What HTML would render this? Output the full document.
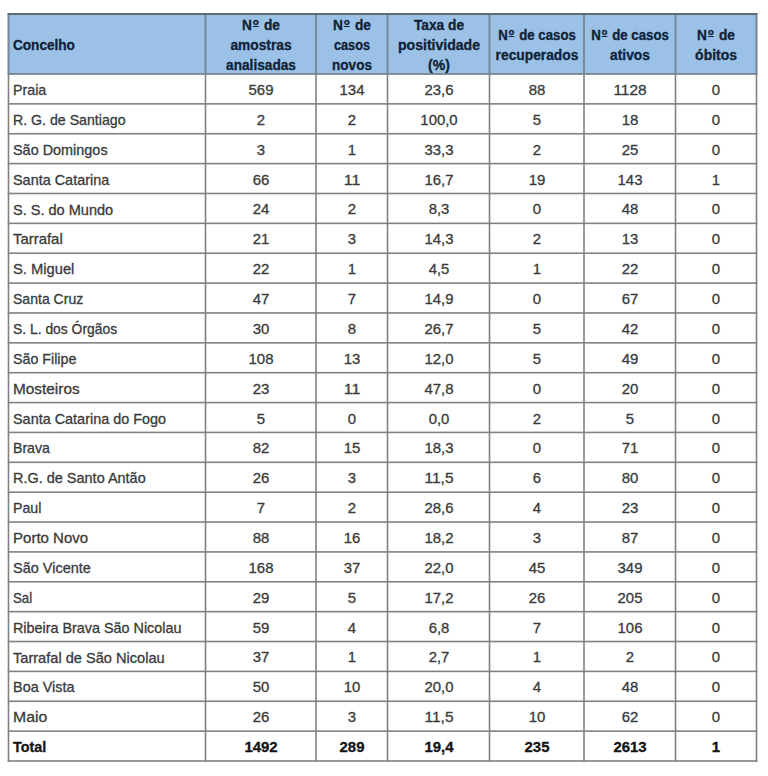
<!DOCTYPE html>
<html><head><meta charset="utf-8"><style>
html,body{margin:0;padding:0;background:#fff;}
body{width:768px;height:776px;position:relative;overflow:hidden;font-family:"Liberation Sans", sans-serif;}
.t{position:absolute;white-space:nowrap;line-height:20px;height:20px;}
.b{color:#3a3a3a;-webkit-text-stroke:0.3px #3a3a3a;}
.h{color:#0f2238;font-weight:bold;-webkit-text-stroke:0.3px #0f2238;}
.ord{display:inline-block;font-size:9.5px;line-height:6px;height:6px;padding-bottom:1px;border-bottom:1.8px solid currentColor;vertical-align:top;margin-top:4px;margin-left:1px;margin-right:1.5px;-webkit-text-stroke:0.45px currentColor;}
.tot{font-weight:bold;color:#141414;-webkit-text-stroke-color:#141414;}
svg{position:absolute;left:0;top:0;}
</style></head><body>

<svg width="768" height="776" viewBox="0 0 768 776">
<rect x="8.5" y="14.0" width="748.0" height="60.0" fill="#9bc1e6"/>
<rect x="7.70" y="13.20" width="749.60" height="1.60" fill="#828282"/>
<rect x="7.70" y="73.20" width="749.60" height="1.60" fill="#717a84"/>
<rect x="7.70" y="103.07" width="749.60" height="1.60" fill="#828282"/>
<rect x="7.70" y="132.94" width="749.60" height="1.60" fill="#828282"/>
<rect x="7.70" y="162.81" width="749.60" height="1.60" fill="#828282"/>
<rect x="7.70" y="192.68" width="749.60" height="1.60" fill="#828282"/>
<rect x="7.70" y="222.55" width="749.60" height="1.60" fill="#828282"/>
<rect x="7.70" y="252.42" width="749.60" height="1.60" fill="#828282"/>
<rect x="7.70" y="282.29" width="749.60" height="1.60" fill="#828282"/>
<rect x="7.70" y="312.16" width="749.60" height="1.60" fill="#828282"/>
<rect x="7.70" y="342.03" width="749.60" height="1.60" fill="#828282"/>
<rect x="7.70" y="371.90" width="749.60" height="1.60" fill="#828282"/>
<rect x="7.70" y="401.77" width="749.60" height="1.60" fill="#828282"/>
<rect x="7.70" y="431.63" width="749.60" height="1.60" fill="#828282"/>
<rect x="7.70" y="461.50" width="749.60" height="1.60" fill="#828282"/>
<rect x="7.70" y="491.37" width="749.60" height="1.60" fill="#828282"/>
<rect x="7.70" y="521.24" width="749.60" height="1.60" fill="#828282"/>
<rect x="7.70" y="551.11" width="749.60" height="1.60" fill="#828282"/>
<rect x="7.70" y="580.98" width="749.60" height="1.60" fill="#828282"/>
<rect x="7.70" y="610.85" width="749.60" height="1.60" fill="#828282"/>
<rect x="7.70" y="640.72" width="749.60" height="1.60" fill="#828282"/>
<rect x="7.70" y="670.59" width="749.60" height="1.60" fill="#828282"/>
<rect x="7.70" y="700.46" width="749.60" height="1.60" fill="#828282"/>
<rect x="7.70" y="730.33" width="749.60" height="1.60" fill="#828282"/>
<rect x="7.70" y="760.20" width="749.60" height="1.60" fill="#828282"/>
<rect x="7.70" y="13.20" width="1.60" height="748.60" fill="#828282"/>
<rect x="204.70" y="13.20" width="1.60" height="748.60" fill="#828282"/>
<rect x="315.20" y="13.20" width="1.60" height="748.60" fill="#828282"/>
<rect x="386.70" y="13.20" width="1.60" height="748.60" fill="#828282"/>
<rect x="488.70" y="13.20" width="1.60" height="748.60" fill="#828282"/>
<rect x="583.20" y="13.20" width="1.60" height="748.60" fill="#828282"/>
<rect x="674.70" y="13.20" width="1.60" height="748.60" fill="#828282"/>
<rect x="755.70" y="13.20" width="1.60" height="748.60" fill="#828282"/>
<rect x="7.70" y="14.00" width="1.60" height="60.00" fill="#7489a0"/>
<rect x="204.70" y="14.00" width="1.60" height="60.00" fill="#7489a0"/>
<rect x="315.20" y="14.00" width="1.60" height="60.00" fill="#7489a0"/>
<rect x="386.70" y="14.00" width="1.60" height="60.00" fill="#7489a0"/>
<rect x="488.70" y="14.00" width="1.60" height="60.00" fill="#7489a0"/>
<rect x="583.20" y="14.00" width="1.60" height="60.00" fill="#7489a0"/>
<rect x="674.70" y="14.00" width="1.60" height="60.00" fill="#7489a0"/>
<rect x="755.70" y="14.00" width="1.60" height="60.00" fill="#7489a0"/>
<rect x="7.70" y="13.20" width="749.60" height="1.60" fill="#58626e"/>
</svg>
<div class="t h" style="left:13.30px;top:35.38px;font-size:13.9px;transform:scaleX(0.9780);transform-origin:0 0;">Concelho</div>
<div class="t h" style="left:260.75px;top:15.48px;font-size:13.9px;transform:translateX(-50%) scaleX(0.9882);">N<span class="ord">o</span> de</div>
<div class="t h" style="left:260.75px;top:35.28px;font-size:13.9px;transform:translateX(-50%) scaleX(0.9914);">amostras</div>
<div class="t h" style="left:260.75px;top:55.18px;font-size:13.9px;transform:translateX(-50%) scaleX(0.9826);">analisadas</div>
<div class="t h" style="left:351.75px;top:15.48px;font-size:13.9px;transform:translateX(-50%) scaleX(0.9882);">N<span class="ord">o</span> de</div>
<div class="t h" style="left:351.75px;top:35.28px;font-size:13.9px;transform:translateX(-50%) scaleX(0.9159);">casos</div>
<div class="t h" style="left:351.75px;top:55.18px;font-size:13.9px;transform:translateX(-50%) scaleX(0.9725);">novos</div>
<div class="t h" style="left:438.50px;top:15.48px;font-size:13.9px;transform:translateX(-50%) scaleX(0.9864);">Taxa de</div>
<div class="t h" style="left:438.50px;top:35.28px;font-size:13.9px;transform:translateX(-50%) scaleX(1.0116);">positividade</div>
<div class="t h" style="left:438.50px;top:55.18px;font-size:13.9px;transform:translateX(-50%) scaleX(1.0072);">(%)</div>
<div class="t h" style="left:536.75px;top:25.38px;font-size:13.9px;transform:translateX(-50%) scaleX(0.9512);">N<span class="ord">o</span> de casos</div>
<div class="t h" style="left:536.75px;top:45.08px;font-size:13.9px;transform:translateX(-50%) scaleX(0.9927);">recuperados</div>
<div class="t h" style="left:629.75px;top:25.38px;font-size:13.9px;transform:translateX(-50%) scaleX(0.9512);">N<span class="ord">o</span> de casos</div>
<div class="t h" style="left:629.75px;top:45.08px;font-size:13.9px;transform:translateX(-50%) scaleX(0.9903);">ativos</div>
<div class="t h" style="left:716.00px;top:25.38px;font-size:13.9px;transform:translateX(-50%) scaleX(0.9882);">N<span class="ord">o</span> de</div>
<div class="t h" style="left:716.00px;top:45.08px;font-size:13.9px;transform:translateX(-50%) scaleX(1.0019);">óbitos</div>
<div class="t b" style="left:13.30px;top:80.05px;font-size:14.3px;transform:scaleX(0.9977);transform-origin:0 0;">Praia</div>
<div class="t b n" style="left:260.75px;top:79.94px;font-size:14.6px;transform:translateX(-50%) scaleX(1.0237);">569</div>
<div class="t b n" style="left:351.75px;top:79.94px;font-size:14.6px;transform:translateX(-50%) scaleX(1.0237);">134</div>
<div class="t b n" style="left:438.50px;top:79.94px;font-size:14.6px;transform:translateX(-50%) scaleX(1.0215);">23,6</div>
<div class="t b n" style="left:536.75px;top:79.94px;font-size:14.6px;transform:translateX(-50%) scaleX(1.0241);">88</div>
<div class="t b n" style="left:629.75px;top:79.94px;font-size:14.6px;transform:translateX(-50%) scaleX(1.0587);">1128</div>
<div class="t b n" style="left:716.00px;top:79.94px;font-size:14.6px;transform:translateX(-50%) scaleX(1.0231);">0</div>
<div class="t b" style="left:13.30px;top:109.91px;font-size:14.3px;transform:scaleX(0.9904);transform-origin:0 0;">R. G. de Santiago</div>
<div class="t b n" style="left:260.75px;top:109.81px;font-size:14.6px;transform:translateX(-50%) scaleX(1.0231);">2</div>
<div class="t b n" style="left:351.75px;top:109.81px;font-size:14.6px;transform:translateX(-50%) scaleX(1.0231);">2</div>
<div class="t b n" style="left:438.50px;top:109.81px;font-size:14.6px;transform:translateX(-50%) scaleX(1.0218);">100,0</div>
<div class="t b n" style="left:536.75px;top:109.81px;font-size:14.6px;transform:translateX(-50%) scaleX(1.0231);">5</div>
<div class="t b n" style="left:629.75px;top:109.81px;font-size:14.6px;transform:translateX(-50%) scaleX(1.0241);">18</div>
<div class="t b n" style="left:716.00px;top:109.81px;font-size:14.6px;transform:translateX(-50%) scaleX(1.0231);">0</div>
<div class="t b" style="left:13.30px;top:139.78px;font-size:14.3px;transform:scaleX(1.0087);transform-origin:0 0;">São Domingos</div>
<div class="t b n" style="left:260.75px;top:139.68px;font-size:14.6px;transform:translateX(-50%) scaleX(1.0231);">3</div>
<div class="t b n" style="left:351.75px;top:139.68px;font-size:14.6px;transform:translateX(-50%) scaleX(1.0231);">1</div>
<div class="t b n" style="left:438.50px;top:139.68px;font-size:14.6px;transform:translateX(-50%) scaleX(1.0215);">33,3</div>
<div class="t b n" style="left:536.75px;top:139.68px;font-size:14.6px;transform:translateX(-50%) scaleX(1.0231);">2</div>
<div class="t b n" style="left:629.75px;top:139.68px;font-size:14.6px;transform:translateX(-50%) scaleX(1.0241);">25</div>
<div class="t b n" style="left:716.00px;top:139.68px;font-size:14.6px;transform:translateX(-50%) scaleX(1.0231);">0</div>
<div class="t b" style="left:13.30px;top:169.65px;font-size:14.3px;transform:scaleX(1.0088);transform-origin:0 0;">Santa Catarina</div>
<div class="t b n" style="left:260.75px;top:169.55px;font-size:14.6px;transform:translateX(-50%) scaleX(1.0241);">66</div>
<div class="t b n" style="left:351.75px;top:169.55px;font-size:14.6px;transform:translateX(-50%) scaleX(1.0969);">11</div>
<div class="t b n" style="left:438.50px;top:169.55px;font-size:14.6px;transform:translateX(-50%) scaleX(1.0215);">16,7</div>
<div class="t b n" style="left:536.75px;top:169.55px;font-size:14.6px;transform:translateX(-50%) scaleX(1.0241);">19</div>
<div class="t b n" style="left:629.75px;top:169.55px;font-size:14.6px;transform:translateX(-50%) scaleX(1.0237);">143</div>
<div class="t b n" style="left:716.00px;top:169.55px;font-size:14.6px;transform:translateX(-50%) scaleX(1.0231);">1</div>
<div class="t b" style="left:13.30px;top:199.52px;font-size:14.3px;transform:scaleX(1.0166);transform-origin:0 0;">S. S. do Mundo</div>
<div class="t b n" style="left:260.75px;top:199.42px;font-size:14.6px;transform:translateX(-50%) scaleX(1.0241);">24</div>
<div class="t b n" style="left:351.75px;top:199.42px;font-size:14.6px;transform:translateX(-50%) scaleX(1.0231);">2</div>
<div class="t b n" style="left:438.50px;top:199.42px;font-size:14.6px;transform:translateX(-50%) scaleX(1.0208);">8,3</div>
<div class="t b n" style="left:536.75px;top:199.42px;font-size:14.6px;transform:translateX(-50%) scaleX(1.0231);">0</div>
<div class="t b n" style="left:629.75px;top:199.42px;font-size:14.6px;transform:translateX(-50%) scaleX(1.0241);">48</div>
<div class="t b n" style="left:716.00px;top:199.42px;font-size:14.6px;transform:translateX(-50%) scaleX(1.0231);">0</div>
<div class="t b" style="left:13.30px;top:229.39px;font-size:14.3px;transform:scaleX(1.0423);transform-origin:0 0;">Tarrafal</div>
<div class="t b n" style="left:260.75px;top:229.29px;font-size:14.6px;transform:translateX(-50%) scaleX(1.0241);">21</div>
<div class="t b n" style="left:351.75px;top:229.29px;font-size:14.6px;transform:translateX(-50%) scaleX(1.0231);">3</div>
<div class="t b n" style="left:438.50px;top:229.29px;font-size:14.6px;transform:translateX(-50%) scaleX(1.0215);">14,3</div>
<div class="t b n" style="left:536.75px;top:229.29px;font-size:14.6px;transform:translateX(-50%) scaleX(1.0231);">2</div>
<div class="t b n" style="left:629.75px;top:229.29px;font-size:14.6px;transform:translateX(-50%) scaleX(1.0241);">13</div>
<div class="t b n" style="left:716.00px;top:229.29px;font-size:14.6px;transform:translateX(-50%) scaleX(1.0231);">0</div>
<div class="t b" style="left:13.30px;top:259.26px;font-size:14.3px;transform:scaleX(1.0301);transform-origin:0 0;">S. Miguel</div>
<div class="t b n" style="left:260.75px;top:259.16px;font-size:14.6px;transform:translateX(-50%) scaleX(1.0241);">22</div>
<div class="t b n" style="left:351.75px;top:259.16px;font-size:14.6px;transform:translateX(-50%) scaleX(1.0231);">1</div>
<div class="t b n" style="left:438.50px;top:259.16px;font-size:14.6px;transform:translateX(-50%) scaleX(1.0208);">4,5</div>
<div class="t b n" style="left:536.75px;top:259.16px;font-size:14.6px;transform:translateX(-50%) scaleX(1.0231);">1</div>
<div class="t b n" style="left:629.75px;top:259.16px;font-size:14.6px;transform:translateX(-50%) scaleX(1.0241);">22</div>
<div class="t b n" style="left:716.00px;top:259.16px;font-size:14.6px;transform:translateX(-50%) scaleX(1.0231);">0</div>
<div class="t b" style="left:13.30px;top:289.13px;font-size:14.3px;transform:scaleX(0.9819);transform-origin:0 0;">Santa Cruz</div>
<div class="t b n" style="left:260.75px;top:289.03px;font-size:14.6px;transform:translateX(-50%) scaleX(1.0241);">47</div>
<div class="t b n" style="left:351.75px;top:289.03px;font-size:14.6px;transform:translateX(-50%) scaleX(1.0231);">7</div>
<div class="t b n" style="left:438.50px;top:289.03px;font-size:14.6px;transform:translateX(-50%) scaleX(1.0215);">14,9</div>
<div class="t b n" style="left:536.75px;top:289.03px;font-size:14.6px;transform:translateX(-50%) scaleX(1.0231);">0</div>
<div class="t b n" style="left:629.75px;top:289.03px;font-size:14.6px;transform:translateX(-50%) scaleX(1.0241);">67</div>
<div class="t b n" style="left:716.00px;top:289.03px;font-size:14.6px;transform:translateX(-50%) scaleX(1.0231);">0</div>
<div class="t b" style="left:13.30px;top:319.00px;font-size:14.3px;transform:scaleX(0.9706);transform-origin:0 0;">S. L. dos Órgãos</div>
<div class="t b n" style="left:260.75px;top:318.90px;font-size:14.6px;transform:translateX(-50%) scaleX(1.0241);">30</div>
<div class="t b n" style="left:351.75px;top:318.90px;font-size:14.6px;transform:translateX(-50%) scaleX(1.0231);">8</div>
<div class="t b n" style="left:438.50px;top:318.90px;font-size:14.6px;transform:translateX(-50%) scaleX(1.0215);">26,7</div>
<div class="t b n" style="left:536.75px;top:318.90px;font-size:14.6px;transform:translateX(-50%) scaleX(1.0231);">5</div>
<div class="t b n" style="left:629.75px;top:318.90px;font-size:14.6px;transform:translateX(-50%) scaleX(1.0241);">42</div>
<div class="t b n" style="left:716.00px;top:318.90px;font-size:14.6px;transform:translateX(-50%) scaleX(1.0231);">0</div>
<div class="t b" style="left:13.30px;top:348.87px;font-size:14.3px;transform:scaleX(0.9961);transform-origin:0 0;">São Filipe</div>
<div class="t b n" style="left:260.75px;top:348.77px;font-size:14.6px;transform:translateX(-50%) scaleX(1.0237);">108</div>
<div class="t b n" style="left:351.75px;top:348.77px;font-size:14.6px;transform:translateX(-50%) scaleX(1.0241);">13</div>
<div class="t b n" style="left:438.50px;top:348.77px;font-size:14.6px;transform:translateX(-50%) scaleX(1.0215);">12,0</div>
<div class="t b n" style="left:536.75px;top:348.77px;font-size:14.6px;transform:translateX(-50%) scaleX(1.0231);">5</div>
<div class="t b n" style="left:629.75px;top:348.77px;font-size:14.6px;transform:translateX(-50%) scaleX(1.0241);">49</div>
<div class="t b n" style="left:716.00px;top:348.77px;font-size:14.6px;transform:translateX(-50%) scaleX(1.0231);">0</div>
<div class="t b" style="left:13.30px;top:378.74px;font-size:14.3px;transform:scaleX(1.0749);transform-origin:0 0;">Mosteiros</div>
<div class="t b n" style="left:260.75px;top:378.64px;font-size:14.6px;transform:translateX(-50%) scaleX(1.0241);">23</div>
<div class="t b n" style="left:351.75px;top:378.64px;font-size:14.6px;transform:translateX(-50%) scaleX(1.0969);">11</div>
<div class="t b n" style="left:438.50px;top:378.64px;font-size:14.6px;transform:translateX(-50%) scaleX(1.0215);">47,8</div>
<div class="t b n" style="left:536.75px;top:378.64px;font-size:14.6px;transform:translateX(-50%) scaleX(1.0231);">0</div>
<div class="t b n" style="left:629.75px;top:378.64px;font-size:14.6px;transform:translateX(-50%) scaleX(1.0241);">20</div>
<div class="t b n" style="left:716.00px;top:378.64px;font-size:14.6px;transform:translateX(-50%) scaleX(1.0231);">0</div>
<div class="t b" style="left:13.30px;top:408.61px;font-size:14.3px;transform:scaleX(1.0083);transform-origin:0 0;">Santa Catarina do Fogo</div>
<div class="t b n" style="left:260.75px;top:408.51px;font-size:14.6px;transform:translateX(-50%) scaleX(1.0231);">5</div>
<div class="t b n" style="left:351.75px;top:408.51px;font-size:14.6px;transform:translateX(-50%) scaleX(1.0231);">0</div>
<div class="t b n" style="left:438.50px;top:408.51px;font-size:14.6px;transform:translateX(-50%) scaleX(1.0208);">0,0</div>
<div class="t b n" style="left:536.75px;top:408.51px;font-size:14.6px;transform:translateX(-50%) scaleX(1.0231);">2</div>
<div class="t b n" style="left:629.75px;top:408.51px;font-size:14.6px;transform:translateX(-50%) scaleX(1.0231);">5</div>
<div class="t b n" style="left:716.00px;top:408.51px;font-size:14.6px;transform:translateX(-50%) scaleX(1.0231);">0</div>
<div class="t b" style="left:13.30px;top:438.48px;font-size:14.3px;transform:scaleX(0.9875);transform-origin:0 0;">Brava</div>
<div class="t b n" style="left:260.75px;top:438.38px;font-size:14.6px;transform:translateX(-50%) scaleX(1.0241);">82</div>
<div class="t b n" style="left:351.75px;top:438.38px;font-size:14.6px;transform:translateX(-50%) scaleX(1.0241);">15</div>
<div class="t b n" style="left:438.50px;top:438.38px;font-size:14.6px;transform:translateX(-50%) scaleX(1.0215);">18,3</div>
<div class="t b n" style="left:536.75px;top:438.38px;font-size:14.6px;transform:translateX(-50%) scaleX(1.0231);">0</div>
<div class="t b n" style="left:629.75px;top:438.38px;font-size:14.6px;transform:translateX(-50%) scaleX(1.0241);">71</div>
<div class="t b n" style="left:716.00px;top:438.38px;font-size:14.6px;transform:translateX(-50%) scaleX(1.0231);">0</div>
<div class="t b" style="left:13.30px;top:468.35px;font-size:14.3px;transform:scaleX(1.0119);transform-origin:0 0;">R.G. de Santo Antão</div>
<div class="t b n" style="left:260.75px;top:468.25px;font-size:14.6px;transform:translateX(-50%) scaleX(1.0241);">26</div>
<div class="t b n" style="left:351.75px;top:468.25px;font-size:14.6px;transform:translateX(-50%) scaleX(1.0231);">3</div>
<div class="t b n" style="left:438.50px;top:468.25px;font-size:14.6px;transform:translateX(-50%) scaleX(1.0617);">11,5</div>
<div class="t b n" style="left:536.75px;top:468.25px;font-size:14.6px;transform:translateX(-50%) scaleX(1.0231);">6</div>
<div class="t b n" style="left:629.75px;top:468.25px;font-size:14.6px;transform:translateX(-50%) scaleX(1.0241);">80</div>
<div class="t b n" style="left:716.00px;top:468.25px;font-size:14.6px;transform:translateX(-50%) scaleX(1.0231);">0</div>
<div class="t b" style="left:13.30px;top:498.22px;font-size:14.3px;transform:scaleX(0.9902);transform-origin:0 0;">Paul</div>
<div class="t b n" style="left:260.75px;top:498.12px;font-size:14.6px;transform:translateX(-50%) scaleX(1.0231);">7</div>
<div class="t b n" style="left:351.75px;top:498.12px;font-size:14.6px;transform:translateX(-50%) scaleX(1.0231);">2</div>
<div class="t b n" style="left:438.50px;top:498.12px;font-size:14.6px;transform:translateX(-50%) scaleX(1.0215);">28,6</div>
<div class="t b n" style="left:536.75px;top:498.12px;font-size:14.6px;transform:translateX(-50%) scaleX(1.0231);">4</div>
<div class="t b n" style="left:629.75px;top:498.12px;font-size:14.6px;transform:translateX(-50%) scaleX(1.0241);">23</div>
<div class="t b n" style="left:716.00px;top:498.12px;font-size:14.6px;transform:translateX(-50%) scaleX(1.0231);">0</div>
<div class="t b" style="left:13.30px;top:528.09px;font-size:14.3px;transform:scaleX(1.0518);transform-origin:0 0;">Porto Novo</div>
<div class="t b n" style="left:260.75px;top:527.98px;font-size:14.6px;transform:translateX(-50%) scaleX(1.0241);">88</div>
<div class="t b n" style="left:351.75px;top:527.98px;font-size:14.6px;transform:translateX(-50%) scaleX(1.0241);">16</div>
<div class="t b n" style="left:438.50px;top:527.98px;font-size:14.6px;transform:translateX(-50%) scaleX(1.0215);">18,2</div>
<div class="t b n" style="left:536.75px;top:527.98px;font-size:14.6px;transform:translateX(-50%) scaleX(1.0231);">3</div>
<div class="t b n" style="left:629.75px;top:527.98px;font-size:14.6px;transform:translateX(-50%) scaleX(1.0241);">87</div>
<div class="t b n" style="left:716.00px;top:527.98px;font-size:14.6px;transform:translateX(-50%) scaleX(1.0231);">0</div>
<div class="t b" style="left:13.30px;top:557.96px;font-size:14.3px;transform:scaleX(1.0126);transform-origin:0 0;">São Vicente</div>
<div class="t b n" style="left:260.75px;top:557.85px;font-size:14.6px;transform:translateX(-50%) scaleX(1.0237);">168</div>
<div class="t b n" style="left:351.75px;top:557.85px;font-size:14.6px;transform:translateX(-50%) scaleX(1.0241);">37</div>
<div class="t b n" style="left:438.50px;top:557.85px;font-size:14.6px;transform:translateX(-50%) scaleX(1.0215);">22,0</div>
<div class="t b n" style="left:536.75px;top:557.85px;font-size:14.6px;transform:translateX(-50%) scaleX(1.0241);">45</div>
<div class="t b n" style="left:629.75px;top:557.85px;font-size:14.6px;transform:translateX(-50%) scaleX(1.0237);">349</div>
<div class="t b n" style="left:716.00px;top:557.85px;font-size:14.6px;transform:translateX(-50%) scaleX(1.0231);">0</div>
<div class="t b" style="left:13.30px;top:587.83px;font-size:14.3px;transform:scaleX(0.9267);transform-origin:0 0;">Sal</div>
<div class="t b n" style="left:260.75px;top:587.72px;font-size:14.6px;transform:translateX(-50%) scaleX(1.0241);">29</div>
<div class="t b n" style="left:351.75px;top:587.72px;font-size:14.6px;transform:translateX(-50%) scaleX(1.0231);">5</div>
<div class="t b n" style="left:438.50px;top:587.72px;font-size:14.6px;transform:translateX(-50%) scaleX(1.0215);">17,2</div>
<div class="t b n" style="left:536.75px;top:587.72px;font-size:14.6px;transform:translateX(-50%) scaleX(1.0241);">26</div>
<div class="t b n" style="left:629.75px;top:587.72px;font-size:14.6px;transform:translateX(-50%) scaleX(1.0237);">205</div>
<div class="t b n" style="left:716.00px;top:587.72px;font-size:14.6px;transform:translateX(-50%) scaleX(1.0231);">0</div>
<div class="t b" style="left:13.30px;top:617.70px;font-size:14.3px;transform:scaleX(1.0046);transform-origin:0 0;">Ribeira Brava São Nicolau</div>
<div class="t b n" style="left:260.75px;top:617.59px;font-size:14.6px;transform:translateX(-50%) scaleX(1.0241);">59</div>
<div class="t b n" style="left:351.75px;top:617.59px;font-size:14.6px;transform:translateX(-50%) scaleX(1.0231);">4</div>
<div class="t b n" style="left:438.50px;top:617.59px;font-size:14.6px;transform:translateX(-50%) scaleX(1.0208);">6,8</div>
<div class="t b n" style="left:536.75px;top:617.59px;font-size:14.6px;transform:translateX(-50%) scaleX(1.0231);">7</div>
<div class="t b n" style="left:629.75px;top:617.59px;font-size:14.6px;transform:translateX(-50%) scaleX(1.0237);">106</div>
<div class="t b n" style="left:716.00px;top:617.59px;font-size:14.6px;transform:translateX(-50%) scaleX(1.0231);">0</div>
<div class="t b" style="left:13.30px;top:647.57px;font-size:14.3px;transform:scaleX(1.0203);transform-origin:0 0;">Tarrafal de São Nicolau</div>
<div class="t b n" style="left:260.75px;top:647.46px;font-size:14.6px;transform:translateX(-50%) scaleX(1.0241);">37</div>
<div class="t b n" style="left:351.75px;top:647.46px;font-size:14.6px;transform:translateX(-50%) scaleX(1.0231);">1</div>
<div class="t b n" style="left:438.50px;top:647.46px;font-size:14.6px;transform:translateX(-50%) scaleX(1.0208);">2,7</div>
<div class="t b n" style="left:536.75px;top:647.46px;font-size:14.6px;transform:translateX(-50%) scaleX(1.0231);">1</div>
<div class="t b n" style="left:629.75px;top:647.46px;font-size:14.6px;transform:translateX(-50%) scaleX(1.0231);">2</div>
<div class="t b n" style="left:716.00px;top:647.46px;font-size:14.6px;transform:translateX(-50%) scaleX(1.0231);">0</div>
<div class="t b" style="left:13.30px;top:677.44px;font-size:14.3px;transform:scaleX(1.0100);transform-origin:0 0;">Boa Vista</div>
<div class="t b n" style="left:260.75px;top:677.33px;font-size:14.6px;transform:translateX(-50%) scaleX(1.0241);">50</div>
<div class="t b n" style="left:351.75px;top:677.33px;font-size:14.6px;transform:translateX(-50%) scaleX(1.0241);">10</div>
<div class="t b n" style="left:438.50px;top:677.33px;font-size:14.6px;transform:translateX(-50%) scaleX(1.0215);">20,0</div>
<div class="t b n" style="left:536.75px;top:677.33px;font-size:14.6px;transform:translateX(-50%) scaleX(1.0231);">4</div>
<div class="t b n" style="left:629.75px;top:677.33px;font-size:14.6px;transform:translateX(-50%) scaleX(1.0241);">48</div>
<div class="t b n" style="left:716.00px;top:677.33px;font-size:14.6px;transform:translateX(-50%) scaleX(1.0231);">0</div>
<div class="t b" style="left:13.30px;top:707.31px;font-size:14.3px;transform:scaleX(1.1058);transform-origin:0 0;">Maio</div>
<div class="t b n" style="left:260.75px;top:707.20px;font-size:14.6px;transform:translateX(-50%) scaleX(1.0241);">26</div>
<div class="t b n" style="left:351.75px;top:707.20px;font-size:14.6px;transform:translateX(-50%) scaleX(1.0231);">3</div>
<div class="t b n" style="left:438.50px;top:707.20px;font-size:14.6px;transform:translateX(-50%) scaleX(1.0617);">11,5</div>
<div class="t b n" style="left:536.75px;top:707.20px;font-size:14.6px;transform:translateX(-50%) scaleX(1.0241);">10</div>
<div class="t b n" style="left:629.75px;top:707.20px;font-size:14.6px;transform:translateX(-50%) scaleX(1.0241);">62</div>
<div class="t b n" style="left:716.00px;top:707.20px;font-size:14.6px;transform:translateX(-50%) scaleX(1.0231);">0</div>
<div class="t b tot" style="left:13.30px;top:737.18px;font-size:14.3px;transform:scaleX(1.0019);transform-origin:0 0;">Total</div>
<div class="t b n tot" style="left:260.75px;top:737.07px;font-size:14.6px;transform:translateX(-50%) scaleX(1.0236);">1492</div>
<div class="t b n tot" style="left:351.75px;top:737.07px;font-size:14.6px;transform:translateX(-50%) scaleX(1.0237);">289</div>
<div class="t b n tot" style="left:438.50px;top:737.07px;font-size:14.6px;transform:translateX(-50%) scaleX(1.0264);">19,4</div>
<div class="t b n tot" style="left:536.75px;top:737.07px;font-size:14.6px;transform:translateX(-50%) scaleX(1.0237);">235</div>
<div class="t b n tot" style="left:629.75px;top:737.07px;font-size:14.6px;transform:translateX(-50%) scaleX(1.0236);">2613</div>
<div class="t b n tot" style="left:716.00px;top:737.07px;font-size:14.6px;transform:translateX(-50%) scaleX(1.0231);">1</div>
</body></html>
